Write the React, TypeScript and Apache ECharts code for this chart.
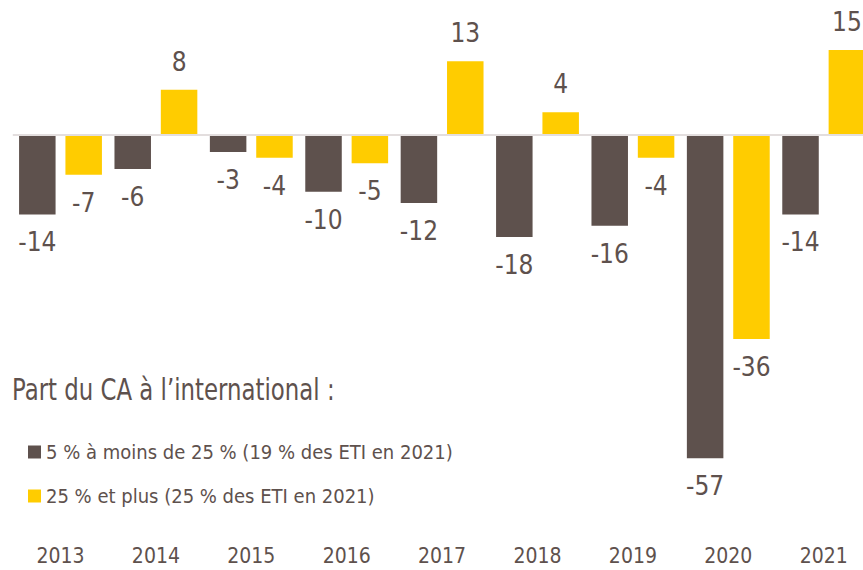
import React, { useEffect, useRef } from "react";
import * as echarts from "echarts";

const categories = ["2013", "2014", "2015", "2016", "2017", "2018", "2019", "2020", "2021"];
const seriesSmall = [-14, -6, -3, -10, -12, -18, -16, -57, -14];
const seriesLarge = [-7, 8, -4, -5, 13, 4, -4, -36, 15];
const seriesNames = ["5 % à moins de 25 % (19 % des ETI en 2021)", "25 % et plus (25 % des ETI en 2021)"];
const titleText = "Part du CA à l\u2019international :";

const FONT = "'DejaVu Sans Condensed', 'Liberation Sans', sans-serif";
const DARK = "#5e514d";
const YELLOW = "#ffcc00";
const TEXT = "#5e514d";

function withLabels(values: number[]) {
  return values.map((v) => ({
    value: v,
    label: { position: v >= 0 ? "top" : "bottom" },
  }));
}

export default function App() {
  const ref = useRef<HTMLDivElement>(null);
  useEffect(() => {
    if (!ref.current) return;
    const chart = echarts.init(ref.current, undefined, { renderer: "svg" });
    const labelCommon = {
      show: true,
      distance: 15,
      color: TEXT,
      fontFamily: FONT,
      fontSize: 26,
    };
    chart.setOption({
      animation: false,
      backgroundColor: "#ffffff",
      textStyle: { fontFamily: FONT },
      graphic: [
        {
          type: "text",
          x: 12,
          y: 390,
          scaleX: 0.82,
          style: {
            text: titleText,
            font: "normal 31px 'DejaVu Sans Condensed', sans-serif",
            fill: TEXT,
            textVerticalAlign: "middle",
            verticalAlign: "middle",
          },
        },
      ],
      legend: {
        orient: "vertical",
        left: 28,
        top: 442,
        padding: 0,
        itemWidth: 13,
        itemHeight: 13,
        itemGap: 24,
        icon: "rect",
        textStyle: { fontFamily: FONT, fontSize: 20, color: TEXT },
        data: seriesNames,
      },
      grid: {
        left: 12.8,
        width: 858.6,
        top: 21.6,
        height: 453.6,
        containLabel: false,
        outerBoundsMode: "none",
      },
      xAxis: {
        type: "category",
        data: categories,
        axisLine: { show: false, onZero: false },
        axisTick: { show: false },
        axisLabel: { margin: 72, fontSize: 21, lineHeight: 17, color: TEXT, fontFamily: FONT },
      },
      yAxis: {
        type: "value",
        min: -60,
        max: 20,
        show: false,
        splitLine: { show: false },
      },
      series: [
        {
          name: seriesNames[0],
          type: "bar",
          data: withLabels(seriesSmall),
          barWidth: 36.5,
          barGap: "27%",
          itemStyle: { color: DARK },
          label: labelCommon,
          markLine: {
            silent: true,
            symbol: "none",
            label: { show: false },
            lineStyle: { color: "#e3dede", width: 2, type: "solid" },
            data: [{ yAxis: 0 }],
          },
        },
        {
          name: seriesNames[1],
          type: "bar",
          data: withLabels(seriesLarge),
          barWidth: 36.5,
          barGap: "27%",
          itemStyle: { color: YELLOW },
          label: labelCommon,
        },
      ],
    });
    return () => chart.dispose();
  }, []);
  return <div ref={ref} style={{ width: 863, height: 570, position: "absolute", left: 0, top: 0 }} />;
}
